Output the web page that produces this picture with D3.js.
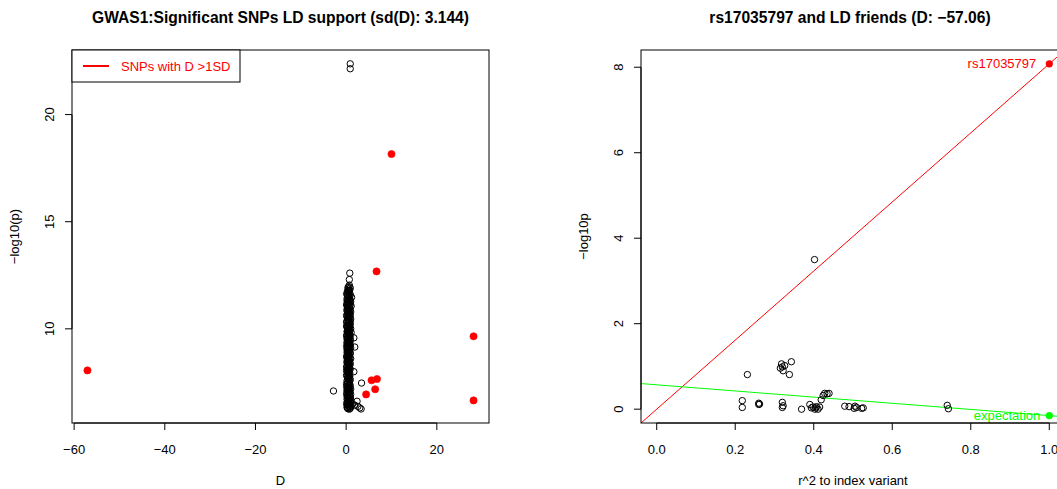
<!DOCTYPE html>
<html>
<head>
<meta charset="utf-8">
<script src="https://cdn.jsdelivr.net/npm/d3@7"></script>
<style>
body { margin: 0; background: #fff; }
text { font-family: "Liberation Sans", Arial, sans-serif; }
</style>
</head>
<body>
<script>
// ---- data ----
var sdD = "3.144";
var indexSnp = "rs17035797";
var indexD = "\u221257.06";

// left panel: SNPs with D > 1 SD (red, filled)
var redD = [-57.06, 10.0, 6.7, 5.6, 6.8, 6.4, 4.4, 28.1, 28.1];
var redP = [8.06, 18.16, 12.68, 7.60, 7.66, 7.18, 6.94, 9.65, 6.66];

// left panel: other SNPs (open circles) away from the main column
var openD = [0.9, 0.9, 0.8, 0.7, 1.7, 1.9, 1.7, 3.4, -2.8, 2.4, 3.0, 2.6, 3.3, 1.4, 1.9];
var openP = [22.37, 22.14, 12.60, 12.30, 9.58, 9.15, 8.00, 7.47, 7.10, 6.62, 6.31, 6.38, 6.26, 6.50, 6.44];

// left panel: the dense column near D = 0, [D, -log10 p]
var columnPts = [
  [0.4,6.27],[0.9,6.29],[0.2,6.33],[0.7,6.36],[1.1,6.41],[0.3,6.44],[0.6,6.47],[0.1,6.52],[0.8,6.58],[0.5,6.61],
  [1.0,6.67],[0.2,6.72],[0.6,6.74],[0.9,6.81],[0.3,6.86],[0.7,6.89],[0.1,6.97],[0.5,7.01],[0.8,7.04],[0.4,7.12],
  [0.2,7.17],[0.6,7.21],[0.3,7.28],[0.9,7.33],[0.5,7.36],[0.1,7.44],[0.4,7.49],[0.7,7.53],[0.2,7.58],[0.5,7.66],
  [0.3,7.71],[0.6,7.74],[0.1,7.82],[0.4,7.88],[0.8,7.92],[0.2,7.99],[0.5,8.03],[0.3,8.09],[0.7,8.14],[0.1,8.21],
  [0.6,8.24],[0.4,8.31],[0.9,8.37],[0.2,8.42],[0.5,8.46],[0.7,8.53],[0.3,8.57],[0.8,8.63],[0.1,8.69],[0.6,8.72],
  [0.4,8.79],[0.9,8.84],[0.2,8.91],[0.7,8.94],[0.5,9.01],[0.3,9.07],[1.0,9.11],[0.1,9.18],[0.6,9.22],[0.4,9.27],
  [0.8,9.34],[0.2,9.39],[0.5,9.43],[0.9,9.51],[0.3,9.56],[0.7,9.59],[0.1,9.67],[0.6,9.71],[0.4,9.76],[1.1,9.83],
  [0.2,9.87],[0.5,9.93],[0.8,9.98],[0.3,10.04],[0.6,10.09],[0.1,10.13],[0.9,10.21],[0.4,10.26],[0.7,10.29],[0.2,10.36],
  [0.5,10.42],[1.0,10.46],[0.3,10.51],[0.6,10.58],[0.1,10.63],[0.8,10.68],[0.4,10.74],[0.7,10.77],[0.2,10.84],[0.9,10.89],
  [0.5,10.93],[0.3,11.02],[1.1,11.06],[0.1,11.11],[0.6,11.17],[0.4,11.23],[0.8,11.28],[0.2,11.31],[0.7,11.38],[0.5,11.44],
  [1.2,11.47],[0.3,11.53],[0.9,11.58],[0.1,11.64],[0.6,11.69],[0.4,11.73],[0.8,11.81],[0.5,11.86],[0.6,11.97],[0.7,12.04],
  // second, interleaved layer of the same column
  [0.7,6.25],[0.3,6.31],[1.0,6.35],[0.5,6.39],[0.2,6.43],[0.8,6.49],[0.4,6.54],[1.0,6.56],[0.3,6.63],[0.7,6.69],
  [0.5,6.77],[0.9,6.79],[0.2,6.84],[0.6,6.92],[1.0,6.94],[0.4,6.99],[0.8,7.07],[0.2,7.09],[0.6,7.14],[1.0,7.19],
  [0.4,7.24],[0.7,7.26],[0.1,7.31],[0.6,7.39],[0.8,7.42],[0.3,7.47],[0.6,7.56],[0.9,7.62],[0.4,7.64],[0.8,7.69],
  [0.5,7.78],[0.8,7.80],[0.2,7.85],[0.6,7.90],[0.4,7.96],[0.7,8.01],[0.1,8.06],[0.9,8.12],[0.4,8.17],[0.7,8.19],
  [0.2,8.27],[0.8,8.29],[0.5,8.34],[0.3,8.39],[0.8,8.44],[0.2,8.49],[0.6,8.51],[0.4,8.59],[1.0,8.61],[0.3,8.67],
  [0.7,8.75],[0.2,8.77],[0.6,8.82],[0.4,8.87],[0.9,8.89],[0.3,8.97],[0.7,8.99],[0.2,9.04],[0.8,9.09],[0.4,9.13],
  [0.7,9.16],[0.3,9.20],[0.9,9.25],[0.5,9.30],[0.2,9.32],[0.7,9.37],[0.4,9.41],[0.9,9.46],[0.6,9.48],[0.2,9.53],
  [0.8,9.62],[0.4,9.64],[0.9,9.69],[0.2,9.74],[0.7,9.79],[0.4,9.81],[0.8,9.89],[0.3,9.91],[0.6,9.96],[1.0,10.01],
  [0.2,10.07],[0.7,10.11],[0.4,10.16],[0.8,10.18],[0.5,10.24],[0.1,10.31],[0.9,10.33],[0.5,10.39],[0.3,10.44],[0.8,10.49],
  [0.6,10.54],[0.2,10.56],[0.9,10.61],[0.4,10.66],[0.6,10.71],[1.0,10.79],[0.3,10.81],[0.6,10.87],[0.2,10.91],[0.8,10.97],
  [0.4,10.99],[0.7,11.04],[0.3,11.09],[0.9,11.14],[0.2,11.19],[0.5,11.21],[1.0,11.26],[0.4,11.34],[0.9,11.36],[0.2,11.41],
  [0.7,11.50],[0.5,11.56],[0.3,11.61],[0.8,11.66],[0.3,11.77],[0.6,11.79],[0.9,11.91],[0.4,11.93]
];

var leftXTicks = [-60, -40, -20, 0, 20];
var leftYTicks = [10, 15, 20];

// right panel: LD friends of the index SNP
var friendR2 = [0.231, 0.320, 0.315, 0.326, 0.322, 0.338, 0.343, 0.318, 0.402,
  0.218, 0.218, 0.260, 0.260, 0.262, 0.320, 0.320, 0.322,
  0.369, 0.390, 0.394, 0.403, 0.407, 0.411, 0.415, 0.419, 0.424, 0.428, 0.434, 0.439, 0.405, 0.398,
  0.479, 0.490, 0.503, 0.509, 0.522, 0.526, 0.505, 0.740, 0.743];
var friendP = [0.81, 0.99, 0.96, 1.02, 0.90, 0.81, 1.11, 1.06, 3.50,
  0.20, 0.04, 0.14, 0.11, 0.12, 0.16, 0.04, 0.08,
  0.00, 0.11, 0.03, 0.00, 0.06, 0.00, 0.05, 0.22, 0.32, 0.37, 0.36, 0.37, 0.03, 0.05,
  0.07, 0.06, 0.02, 0.04, 0.02, 0.03, 0.07, 0.09, 0.01];

var indexR2 = 1.0, indexP = 8.08;      // index variant
var expR2 = 1.0, expP = -0.15;         // expectation point
var expIntercept = 0.57, expSlope = -0.72;   // green expectation line
var rightXTicks = [0, 0.2, 0.4, 0.6, 0.8, 1.0];
var rightYTicks = [0, 2, 4, 6, 8];

// ---- layout ----
var W = 1057, H = 489;
var plotTop = 50, plotBottom = 423;
var L = { x0: 72, x1: 489 };
var R = { x0: 641, x1: 1065 };

var svg = d3.select("body").append("svg")
    .attr("width", W)
    .attr("height", H);

function padded(lo, hi) {
    var d = (hi - lo) * 0.04;
    return [lo - d, hi + d];
}

// ================= left panel =================
var allD = redD.concat(openD, columnPts.map(function (d) { return d[0]; }));
var allP = redP.concat(openP, columnPts.map(function (d) { return d[1]; }));

var xL = d3.scaleLinear()
    .domain(padded(d3.min(allD), d3.max(allD)))
    .range([L.x0, L.x1]);
var yL = d3.scaleLinear()
    .domain(padded(d3.min(allP), d3.max(allP)))
    .range([plotBottom, plotTop]);

var gL = svg.append("g");

gL.append("g").selectAll("circle")
    .data(columnPts)
    .enter()
    .append("circle")
    .attr("cx", function (d) { return xL(d[0]); })
    .attr("cy", function (d) { return yL(d[1]); })
    .attr("r", 3.2)
    .attr("fill", "none")
    .attr("stroke", "black");

gL.append("g").selectAll("circle")
    .data(d3.range(openD.length))
    .enter()
    .append("circle")
    .attr("cx", function (i) { return xL(openD[i]); })
    .attr("cy", function (i) { return yL(openP[i]); })
    .attr("r", 3.2)
    .attr("fill", "none")
    .attr("stroke", "black");

gL.append("g").selectAll("circle")
    .data(d3.range(redD.length))
    .enter()
    .append("circle")
    .attr("cx", function (i) { return xL(redD[i]); })
    .attr("cy", function (i) { return yL(redP[i]); })
    .attr("r", 3.6)
    .attr("fill", "red")
    .attr("stroke", "red")
    .attr("stroke-width", 0.6);

// box
gL.append("rect")
    .attr("x", L.x0).attr("y", plotTop)
    .attr("width", L.x1 - L.x0).attr("height", plotBottom - plotTop)
    .attr("fill", "none").attr("stroke", "black");

// axes (R style: line spans first..last tick)
function bottomAxis(g, x, ticks, fmt) {
    g.append("line")
        .attr("x1", x(ticks[0])).attr("x2", x(ticks[ticks.length - 1]))
        .attr("y1", plotBottom).attr("y2", plotBottom)
        .attr("stroke", "black");
    ticks.forEach(function (t) {
        g.append("line")
            .attr("x1", x(t)).attr("x2", x(t))
            .attr("y1", plotBottom).attr("y2", plotBottom + 7)
            .attr("stroke", "black");
        g.append("text")
            .attr("x", x(t)).attr("y", plotBottom + 31)
            .attr("text-anchor", "middle")
            .attr("font-size", 13)
            .text(fmt(t));
    });
}
function leftAxis(g, y, x0, ticks, fmt) {
    g.append("line")
        .attr("x1", x0).attr("x2", x0)
        .attr("y1", y(ticks[0])).attr("y2", y(ticks[ticks.length - 1]))
        .attr("stroke", "black");
    ticks.forEach(function (t) {
        g.append("line")
            .attr("x1", x0 - 7).attr("x2", x0)
            .attr("y1", y(t)).attr("y2", y(t))
            .attr("stroke", "black");
        g.append("text")
            .attr("transform", "translate(" + (x0 - 18) + "," + y(t) + ") rotate(-90)")
            .attr("text-anchor", "middle")
            .attr("font-size", 13)
            .text(fmt(t));
    });
}

bottomAxis(gL, xL, leftXTicks, d3.format("d"));
leftAxis(gL, yL, L.x0, leftYTicks, d3.format("d"));

gL.append("text")
    .attr("x", (L.x0 + L.x1) / 2).attr("y", 23)
    .attr("text-anchor", "middle")
    .attr("font-size", 15.6).attr("font-weight", "bold")
    .text("GWAS1:Significant SNPs LD support (sd(D): " + sdD + ")");
gL.append("text")
    .attr("x", (L.x0 + L.x1) / 2).attr("y", 485)
    .attr("text-anchor", "middle")
    .attr("font-size", 13)
    .text("D");
gL.append("text")
    .attr("transform", "translate(" + (L.x0 - 53) + "," + ((plotTop + plotBottom) / 2) + ") rotate(-90)")
    .attr("text-anchor", "middle")
    .attr("font-size", 13)
    .text("\u2212log10(p)");

// legend
var lg = gL.append("g");
lg.append("rect")
    .attr("x", L.x0).attr("y", plotTop)
    .attr("width", 168).attr("height", 32)
    .attr("fill", "white").attr("stroke", "black");
lg.append("line")
    .attr("x1", L.x0 + 11).attr("x2", L.x0 + 37)
    .attr("y1", plotTop + 16).attr("y2", plotTop + 16)
    .attr("stroke", "red").attr("stroke-width", 2);
lg.append("text")
    .attr("x", L.x0 + 49).attr("y", plotTop + 21)
    .attr("fill", "red")
    .attr("font-size", 13)
    .text("SNPs with D >1SD");

// ================= right panel =================
var xR = d3.scaleLinear()
    .domain(padded(0, 1))
    .range([R.x0, R.x1]);
var yR = d3.scaleLinear()
    .domain(padded(0, indexP))
    .range([plotBottom, plotTop]);

var gR = svg.append("g");

svg.append("clipPath").attr("id", "clipR")
    .append("rect")
    .attr("x", R.x0).attr("y", plotTop)
    .attr("width", R.x1 - R.x0).attr("height", plotBottom - plotTop);

var xd = xR.domain();
gR.append("line")
    .attr("clip-path", "url(#clipR)")
    .attr("x1", xR(xd[0])).attr("y1", yR(indexP * xd[0]))
    .attr("x2", xR(xd[1])).attr("y2", yR(indexP * xd[1]))
    .attr("stroke", "red");
gR.append("line")
    .attr("clip-path", "url(#clipR)")
    .attr("x1", xR(xd[0])).attr("y1", yR(expIntercept + expSlope * xd[0]))
    .attr("x2", xR(xd[1])).attr("y2", yR(expIntercept + expSlope * xd[1]))
    .attr("stroke", "#00ff00");

gR.append("g").selectAll("circle")
    .data(d3.range(friendR2.length))
    .enter()
    .append("circle")
    .attr("cx", function (i) { return xR(friendR2[i]); })
    .attr("cy", function (i) { return yR(friendP[i]); })
    .attr("r", 3.2)
    .attr("fill", "none")
    .attr("stroke", "black");

gR.append("circle")
    .attr("cx", xR(indexR2)).attr("cy", yR(indexP))
    .attr("r", 3.6).attr("fill", "red");
gR.append("text")
    .attr("x", xR(indexR2) - 13).attr("y", yR(indexP) + 4.5)
    .attr("text-anchor", "end")
    .attr("fill", "red").attr("font-size", 13)
    .text(indexSnp);

gR.append("circle")
    .attr("cx", xR(expR2)).attr("cy", yR(expP))
    .attr("r", 3.6).attr("fill", "#00ff00");
gR.append("text")
    .attr("x", xR(expR2) - 9).attr("y", yR(expP) + 4.5)
    .attr("text-anchor", "end")
    .attr("fill", "#00ff00").attr("font-size", 13)
    .text("expectation");

gR.append("rect")
    .attr("x", R.x0).attr("y", plotTop)
    .attr("width", R.x1 - R.x0).attr("height", plotBottom - plotTop)
    .attr("fill", "none").attr("stroke", "black");

bottomAxis(gR, xR, rightXTicks, d3.format(".1f"));
leftAxis(gR, yR, R.x0, rightYTicks, d3.format("d"));

gR.append("text")
    .attr("x", (R.x0 + R.x1) / 2 - 3).attr("y", 23)
    .attr("text-anchor", "middle")
    .attr("font-size", 15.6).attr("font-weight", "bold")
    .text(indexSnp + " and LD friends (D: " + indexD + ")");
gR.append("text")
    .attr("x", (R.x0 + R.x1) / 2).attr("y", 485)
    .attr("text-anchor", "middle")
    .attr("font-size", 13)
    .text("r^2 to index variant");
gR.append("text")
    .attr("transform", "translate(" + (R.x0 - 53) + "," + ((plotTop + plotBottom) / 2) + ") rotate(-90)")
    .attr("text-anchor", "middle")
    .attr("font-size", 13)
    .text("\u2212log10p");
</script>
</body>
</html>
